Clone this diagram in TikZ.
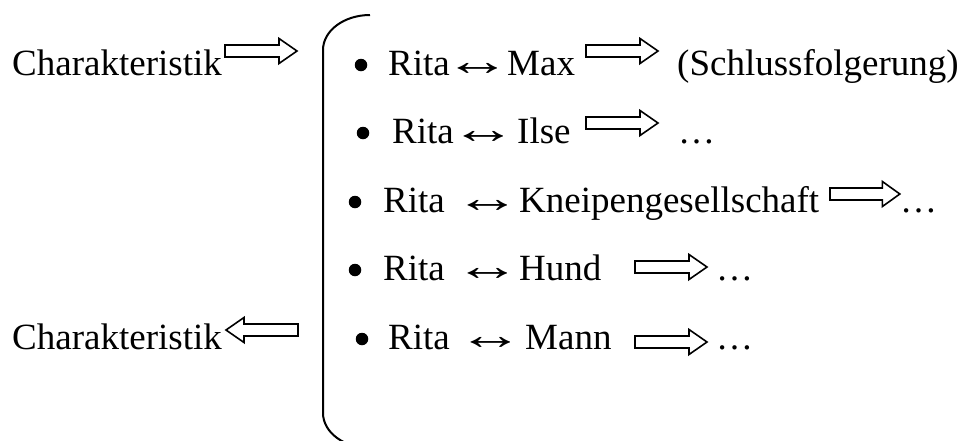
\documentclass[tikz,border=0pt]{standalone}
\usepackage{fontspec}
\usepackage{graphicx}
\setmainfont{Liberation Serif}
\newcommand{\lrarr}{\makebox[36pt][l]{\hspace{-12pt}\scalebox{1.8}[1.15]{↔}}}
\begin{document}
\begin{tikzpicture}[x=1pt,y=-1pt,
  txt/.style={font=\fontsize{37}{44}\selectfont, inner sep=0pt, anchor=base west},
  bul/.style={circle, fill=black, inner sep=0pt, minimum size=12.5pt},
  hollow/.style={draw=black, line width=1.6pt, fill=white, line join=miter},
  bracketline/.style={draw=black, line width=2pt},
  pics/fatarrow/.style={code={\draw[hollow] (0,-6) -- (54,-6) -- (54,-12.5) -- (72,0) -- (54,12.5) -- (54,6) -- (0,6) -- cycle;}}]
\useasboundingbox[fill=white] (0,0) rectangle (966,440);
\clip (0,0) rectangle (966,440);
% left labels
\node[txt] (ch1) at (12,75) {Charakteristik};
\node[txt] (ch2) at (12,349) {Charakteristik};
\coordinate (a1) at (225,51);
\coordinate (a2) at (298,330);
\pic at (a1) {fatarrow};
\pic[xscale=-1] at (a2) {fatarrow};
% bracket
\draw[bracketline] (370,15) arc[start angle=270, end angle=180, x radius=47, y radius=35]
  -- (323,413) arc[start angle=180, end angle=90, x radius=47, y radius=35];
% row 1
\node[bul] (b1) at (361,65) {};
\node[txt] (r1) at (388,75) {Rita};
\node[txt] (l1) at (456,75) {\lrarr};
\node[txt] (n1) at (507,75) {Max};
\coordinate (p1) at (586,51);
\pic at (p1) {fatarrow};
\node[txt] (s1) at (677,75) {(Schlussfolgerung)};
% row 2
\node[bul] (b2) at (363,133) {};
\node[txt] (r2) at (392,143) {Rita};
\node[txt] (l2) at (462,143) {\lrarr};
\node[txt] (n2) at (517,143) {Ilse};
\coordinate (p2) at (586,123);
\pic at (p2) {fatarrow};
\node[txt] (s2) at (678,143) {…};
% row 3
\node[bul] (b3) at (355,202) {};
\node[txt] (r3) at (383,212) {Rita};
\node[txt] (l3) at (466,212) {\lrarr};
\node[txt] (n3) at (519,212) {Kneipengesellschaft};
\coordinate (p3) at (830,194);
\pic[xscale=0.97] at (p3) {fatarrow};
\node[txt] (s3) at (900,212) {…};
% row 4
\node[bul] (b4) at (355,270) {};
\node[txt] (r4) at (383,280) {Rita};
\node[txt] (l4) at (466,280) {\lrarr};
\node[txt] (n4) at (519,280) {Hund};
\coordinate (p4) at (635,267);
\pic at (p4) {fatarrow};
\node[txt] (s4) at (716,280) {…};
% row 5
\node[bul] (b5) at (362,339) {};
\node[txt] (r5) at (388,349) {Rita};
\node[txt] (l5) at (469,349) {\lrarr};
\node[txt] (n5) at (525,349) {Mann};
\coordinate (p5) at (635,342);
\pic at (p5) {fatarrow};
\node[txt] (s5) at (716,349) {…};
\end{tikzpicture}
\end{document}
